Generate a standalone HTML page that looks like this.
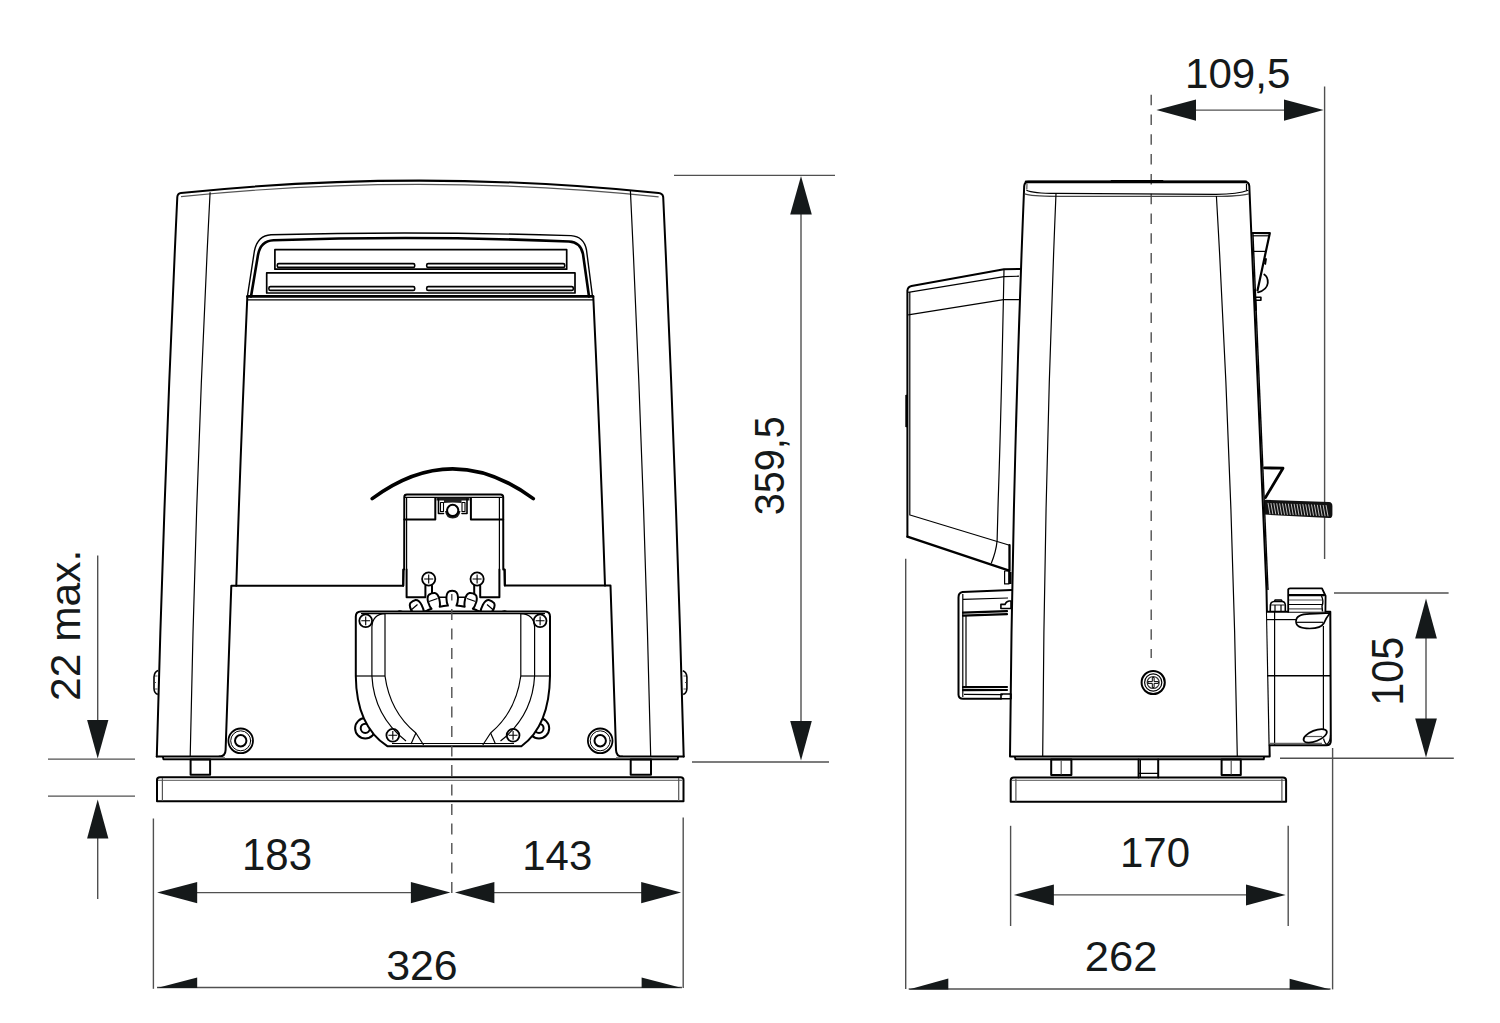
<!DOCTYPE html>
<html><head><meta charset="utf-8">
<style>
html,body{margin:0;padding:0;background:#fff;width:1500px;height:1023px;overflow:hidden}
svg{display:block}
.t{font-family:"Liberation Sans",sans-serif;font-size:44px;fill:#15191a}
.dm{stroke:#505050;stroke-width:1.4;fill:none}
.ar{fill:#15191a;stroke:none}
.k{stroke:#000;stroke-width:2;fill:none;stroke-linejoin:round;stroke-linecap:round}
.k1{stroke:#000;stroke-width:1.2;fill:none;stroke-linejoin:round}
.kg{stroke:#333;stroke-width:1;fill:none}
.dash{stroke:#505050;stroke-width:1.4;fill:none;stroke-dasharray:10 9}
</style></head><body>
<svg width="1500" height="1023" viewBox="0 0 1500 1023">
<!-- ============ DIMENSIONS FRONT ============ -->
<g id="dimsF">
  <!-- 359,5 -->
  <line class="dm" x1="674" y1="175.4" x2="835" y2="175.4"/>
  <line class="dm" x1="692" y1="762" x2="829" y2="762"/>
  <line class="dm" x1="801" y1="212" x2="801" y2="723"/>
  <polygon class="ar" points="801,176 790.2,214.5 811.8,214.5"/>
  <polygon class="ar" points="801,760.5 790.2,721 811.8,721"/>
  <text class="t" transform="translate(784.3,515.3) rotate(-90) scale(0.9,0.965)">359,5</text>
  <!-- 22 max -->
  <line class="dm" x1="48" y1="759.1" x2="135" y2="759.1"/>
  <line class="dm" x1="48" y1="796.1" x2="135" y2="796.1"/>
  <line class="dm" x1="97.7" y1="555.5" x2="97.7" y2="722"/>
  <polygon class="ar" points="97.7,758.5 87.1,719.9 108.4,719.9"/>
  <line class="dm" x1="97.7" y1="836" x2="97.7" y2="899"/>
  <polygon class="ar" points="97.7,799.6 87.1,838.6 108.4,838.6"/>
  <text class="t" transform="translate(79.8,700.9) rotate(-90) scale(0.966,0.95)">22 max.</text>
  <!-- 183 / 143 -->
  <line class="dm" x1="153.4" y1="818.5" x2="153.4" y2="988.8"/>
  <line class="dm" x1="683.2" y1="817.5" x2="683.2" y2="988"/>
  <line class="dm" x1="195" y1="892.6" x2="413" y2="892.6"/>
  <polygon class="ar" points="157.1,892.6 197.2,882.1 197.2,903.2"/>
  <polygon class="ar" points="450.4,892.6 410.9,882.1 410.9,903.2"/>
  <line class="dm" x1="492" y1="892.6" x2="643" y2="892.6"/>
  <polygon class="ar" points="454.9,892.6 494.4,882.1 494.4,903.2"/>
  <polygon class="ar" points="681.1,892.6 641.2,882.1 641.2,903.2"/>
  <text class="t" transform="translate(242,870) scale(0.954,0.99)">183</text>
  <text class="t" transform="translate(522.3,869.9) scale(0.952,0.977)">143</text>
  <!-- 326 -->
  <line class="dm" x1="157" y1="987.5" x2="682" y2="987.5"/>
  <polygon class="ar" points="157,988 197.2,977.5 197.2,988"/>
  <polygon class="ar" points="682,988 641.6,977.5 641.6,988"/>
  <text class="t" transform="translate(386.2,980) scale(0.974,0.961)">326</text>
  
</g>
<!-- ============ DIMENSIONS SIDE ============ -->
<g id="dimsS">
  <!-- 109,5 -->
  <line class="dm" x1="1194" y1="110.1" x2="1286" y2="110.1"/>
  <polygon class="ar" points="1156.4,110.1 1196,99.4 1196,120.7"/>
  <polygon class="ar" points="1323.6,110.1 1284,99.4 1284,120.7"/>
  <line class="dm" x1="1324.6" y1="86.6" x2="1324.6" y2="559"/>
  <line class="dash" style="stroke-dasharray:10.5 9.3" x1="1151.2" y1="94.7" x2="1151.2" y2="658"/>
  <text class="t" transform="translate(1185,88.1) scale(0.957,0.961)">109,5</text>
  <!-- 105 -->
  <line class="dm" x1="1334" y1="593" x2="1448.6" y2="593"/>
  <line class="dm" x1="1280" y1="758.3" x2="1453.8" y2="758.3"/>
  <line class="dm" x1="1426" y1="636" x2="1426" y2="720"/>
  <polygon class="ar" points="1426,598.6 1415.2,638.5 1436.9,638.5"/>
  <polygon class="ar" points="1426,757.4 1415.2,718.4 1436.9,718.4"/>
  <text class="t" transform="translate(1402.7,705.7) rotate(-90) scale(0.938,0.99)">105</text>
  <!-- 170 -->
  <line class="dm" x1="1010.6" y1="825.8" x2="1010.6" y2="926"/>
  <line class="dm" x1="1288.2" y1="825.8" x2="1288.2" y2="926"/>
  <line class="dm" x1="1052" y1="894.9" x2="1248" y2="894.9"/>
  <polygon class="ar" points="1013.8,894.9 1053.9,884.4 1053.9,905.5"/>
  <polygon class="ar" points="1285.6,894.9 1246,884.4 1246,905.5"/>
  <text class="t" transform="translate(1120,867) scale(0.954,0.968)">170</text>
  <!-- 262 -->
  <line class="dm" x1="905.7" y1="558.7" x2="905.7" y2="989"/>
  <line class="dm" x1="1332.6" y1="748" x2="1332.6" y2="989.4"/>
  <line class="dm" x1="908.7" y1="989" x2="1330.5" y2="989"/>
  <polygon class="ar" points="908.7,989.5 948.3,978.4 948.3,989.5"/>
  <polygon class="ar" points="1330.5,989.5 1289.6,978.8 1289.6,989.5"/>
  <text class="t" transform="translate(1084.8,971) scale(0.99,0.958)">262</text>
</g>
<g id="front">
  <!-- outer body -->
  <path class="k" d="M156.8,756.4 Q164.2,476.7 177.3,197 Q177.6,193.3 181,193 Q420,168.2 658.6,193.1 Q662.6,193.5 663.2,197 Q676.2,476.8 683.7,756.6"/>
  <path class="k1" style="stroke:#555" d="M181,196.6 Q420,172 658.6,196.8"/>
  <!-- inner thin side lines -->
  <path class="k1" d="M210.1,192.2 Q195.6,474.3 190.2,756.4"/>
  <path class="k1" d="M630.4,190.6 Q644.1,473.6 650.7,756.6"/>
  <!-- panel lines -->
  <path class="k" d="M247.3,297 Q240.5,450 236.3,585.8"/>
  <path class="k" d="M593.3,297 Q600.5,450 605,585.6"/>
  <!-- lower block -->
  <path class="k" d="M219.5,756.4 Q225.4,756.4 225.6,750 L231.3,585.8 L403.2,585.8 L403.5,569.5"/>
  <path class="k" d="M622,756.6 Q616.3,756.6 616,750 L610.5,585.6 L504.9,585.6 L504.6,569.5"/>
  <line class="k" x1="156.7" y1="756.4" x2="219.5" y2="756.4"/>
  <line class="k" x1="622" y1="756.6" x2="683.7" y2="756.6"/>
  <!-- bottom strip -->
  <path class="k" d="M163,757 L163.5,759.2 L677.7,759.2 L678,757"/>
  <line class="k1" style="stroke:#888" x1="164" y1="757.7" x2="225" y2="757.7"/>
  <line class="k1" style="stroke:#888" x1="616" y1="757.7" x2="677" y2="757.7"/>
  <!-- feet -->
  <rect class="k" x="190.6" y="759.6" width="19.5" height="15.2"/>
  <rect class="k" x="630.7" y="759.6" width="20.3" height="15.2"/>
  <!-- base plate -->
  <path class="k" d="M157,780 Q157,777.3 160,777.3 L680.5,777.3 Q683.5,777.3 683.5,780 L683.5,801.2 L157,801.2 Z"/>
  <line class="k1" style="stroke:#777" x1="158" y1="780.4" x2="683" y2="780.4"/>
  <line class="k1" style="stroke:#555" x1="162.4" y1="778" x2="162.4" y2="801"/>
  <line class="k1" style="stroke:#555" x1="678.7" y1="778" x2="678.7" y2="801"/>
  <!-- knobs -->
  <path class="k1" style="stroke-width:1.6" d="M158.2,670.6 Q154.3,672 154,677 L154,688.5 Q154.2,693.2 157.8,694.6"/>
  <path class="k1" style="stroke:#444;stroke-width:0.9" d="M155,676 L157.5,676 M155,689 L157.5,689 M154.5,682.5 L156,682.5"/>
  <path class="k1" style="stroke-width:1.6" d="M682.8,670.8 Q686.6,672 686.9,677 L686.9,688.5 Q686.7,693.2 683.2,694.6"/>
  <path class="k1" style="stroke:#444;stroke-width:0.9" d="M683.5,676 L686,676 M683.5,689 L686,689 M685,682.5 L686.5,682.5"/>
  <!-- grille -->
  <path class="k1" style="stroke-width:1.4" d="M247.3,297 L254.4,251 Q257.5,235.5 271,234.7 Q420,231 571,235.6 Q584,236.5 586.5,250 L592.5,296.5"/>
  <path class="k" style="stroke-width:2.6" d="M251,296.5 L258,255 Q260.5,241 273.5,240.3 Q420,235.2 569,241.5 Q580.5,242 583,254 L589,296.5"/>
  <line class="k" style="stroke-width:2.8" x1="247.5" y1="296.4" x2="593" y2="296.4"/>
  <line class="k1" x1="247" y1="299.9" x2="593.3" y2="299.9"/>
  <!-- slat 1 -->
  <path class="k" style="stroke-width:1.7" d="M274.9,269.2 L274.9,249.7 L566.7,249.7 L566.7,269.2 Z"/>
  <rect class="k" x="277.3" y="263.6" width="137.4" height="3.8" rx="1.5" style="stroke-width:1.6"/>
  <rect class="k" x="426.7" y="263.6" width="138" height="3.8" rx="1.5" style="stroke-width:1.6"/>
  <!-- slat 2 -->
  <path class="k" style="stroke-width:1.7" d="M266.7,293 L266.7,272.9 L575,272.9 L575,293 Z"/>
  <rect class="k" x="268.9" y="286.6" width="145.8" height="3.8" rx="1.5" style="stroke-width:1.6"/>
  <rect class="k" x="426.7" y="286.6" width="146.6" height="3.8" rx="1.5" style="stroke-width:1.6"/>
  <!-- arc -->
  <path class="k" style="stroke-width:3.6" d="M372.2,498.6 Q452.5,439 533.3,498.6"/>
  <!-- washers -->
  <g class="k">
    <circle cx="240.7" cy="740.8" r="12.3" style="stroke-width:1.8"/><circle cx="240.7" cy="740.8" r="10" style="stroke-width:1"/><circle cx="240.7" cy="740.8" r="5.7"/>
    <circle cx="600.2" cy="740.8" r="12.3" style="stroke-width:1.8"/><circle cx="600.2" cy="740.8" r="10" style="stroke-width:1"/><circle cx="600.2" cy="740.8" r="5.7"/>
  </g>
</g>
<g id="front2">
<g id="gearbox">
<path class="k" d="M403.2,585.8 L403.4,569.8 L404.2,569.5 L404.3,497 Q404.3,494.5 407,494.5 L500.5,494.5 Q503.2,494.5 503.2,497 L503.3,569.5 L504.6,569.8 L504.8,585.6"/>
<line class="k1" x1="405" y1="497.4" x2="502.5" y2="497.4"/>
<path class="k" d="M404.3,519.6 L435.3,519.6 L435.3,498"/>
<path class="k" d="M503.2,519.6 L470.9,519.6 L470.9,498"/>
<line class="k1" x1="406.6" y1="497.5" x2="406.6" y2="569.5"/>
<line class="k1" x1="499.4" y1="497.5" x2="499.4" y2="569.5"/>
<path class="k" d="M406.6,569.5 L406.6,597.2 L425.4,597.2 L425.4,585.4"/>
<path class="k" d="M499.4,569.5 L499.4,597.2 L480.2,597.2 L480.2,585.4"/>
<line class="k" x1="432" y1="585.4" x2="432" y2="596"/>
<line class="k" x1="474.2" y1="585.4" x2="474.2" y2="596"/>
<path style="fill:#1c1c1c" d="M436.5,497.5 L469.5,497.5 L469.5,500.5 L436.5,500.5 Z"/>
<path class="k" style="stroke-width:1.6" d="M438.5,499 L438.5,513.5 L443.5,513.5 M467,499 L467,513.5 L462,513.5"/>
<path style="fill:#222" d="M444,499.5 L461.5,499.5 L461.5,503 Q458,502.5 452.7,502.5 Q447.5,502.5 444,503 Z"/>
<rect class="k1" style="stroke-width:1.1" x="440.5" y="502.5" width="3" height="9"/>
<rect class="k1" style="stroke-width:1.1" x="462" y="502.5" width="3" height="9"/>
<path style="fill:#1c1c1c" d="M445,511 Q446,518.5 452.7,518.5 Q459.4,518.5 460.5,511 L458.5,511 Q457.5,516 452.7,516 Q448,516 447,511 Z"/>
<circle style="fill:#fff;stroke:#000;stroke-width:2" cx="452.7" cy="510.4" r="5.6"/>
</g>
<circle class="k" style="stroke-width:1.8" cx="428.7" cy="579" r="6.6"/>
<path class="k1" style="stroke-width:1.1" d="M424.2,579 H433.2 M428.7,574.5 V583.5"/>
<circle class="k" style="stroke-width:1.8" cx="477.1" cy="579" r="6.6"/>
<path class="k1" style="stroke-width:1.1" d="M472.6,579 H481.6 M477.1,574.5 V583.5"/>
<clipPath id="gclip"><rect x="395" y="580" width="115" height="31.5"/></clipPath>
<line class="k1" style="stroke-width:1.6" x1="432" y1="597.2" x2="474.2" y2="597.2"/>
<path style="fill:#fff" class="k" clip-path="url(#gclip)" d="M400.8,630.1 L403.5,626.9 Q400.9,626.1 397.3,622.6 Q393.4,618.6 394.5,615.6 Q396.0,612.9 398.8,611.5 Q401.8,610.6 405.6,614.6 Q409.0,618.3 409.7,621.0 L412.9,618.4 L416.4,616.1 Q414.0,614.6 411.4,610.4 Q408.7,605.5 410.5,602.9 Q412.6,600.6 415.6,600.0 Q418.8,599.8 421.5,604.7 Q423.8,609.2 423.8,611.9 L427.6,610.3 L431.5,608.8 Q429.6,606.8 428.1,602.0 Q426.7,596.6 429.1,594.6 Q431.7,592.9 434.8,593.1 Q437.9,593.7 439.3,599.1 Q440.4,604.0 439.7,606.7 L443.8,606.0 L447.9,605.6 Q446.6,603.2 446.4,598.2 Q446.4,592.6 449.3,591.3 Q452.2,590.3 455.1,591.3 Q458.0,592.6 458.0,598.2 Q457.8,603.2 456.5,605.6 L460.6,606.0 L464.7,606.7 Q464.0,604.0 465.1,599.1 Q466.5,593.7 469.6,593.1 Q472.7,592.9 475.3,594.6 Q477.7,596.6 476.3,602.0 Q474.8,606.8 472.9,608.8 L476.8,610.3 L480.6,611.9 Q480.6,609.2 482.9,604.7 Q485.6,599.8 488.8,600.0 Q491.8,600.6 493.9,602.9 Q495.7,605.5 493.0,610.4 Q490.4,614.6 488.0,616.1 L491.5,618.4 L494.7,621.0 Q495.4,618.3 498.8,614.6 Q502.6,610.6 505.6,611.5 Q508.4,612.9 509.9,615.6 Q511.0,618.6 507.1,622.6 Q503.5,626.1 500.9,626.9 L503.6,630.1"/>
<line class="k1" x1="429" y1="601.5" x2="437.5" y2="598.5"/>
<line class="k1" x1="467" y1="598.5" x2="475.5" y2="601.5"/>
<line class="k1" x1="410.5" y1="610.5" x2="417.5" y2="604.5"/>
<line class="k1" x1="487" y1="604.5" x2="494" y2="610.5"/>
<circle class="k" cx="365.3" cy="728.3" r="10.2"/><circle class="k" cx="365.3" cy="728.3" r="4.6"/>
<circle class="k" cx="539" cy="728.3" r="10.2"/><circle class="k" cx="539" cy="728.3" r="4.6"/>
<g id="housing">
<path style="fill:#fff" class="k" d="M361,611.4 L545,611.4 Q550,611.4 550,616.5 L550,676 Q549.5,726 521.4,746.2 L387.3,746.2 Q356.3,726 355.8,676 L355.8,616.5 Q355.8,611.4 361,611.4 Z"/>
<line class="k1" x1="361" y1="613.6" x2="545" y2="613.6"/>
<path class="k1" d="M371.9,676 L371.9,627 Q372.5,614 385,613.6"/>
<path class="k1" d="M534.6,676 L534.6,627 Q534,614 520.8,613.6"/>
<line class="k1" x1="385" y1="613.6" x2="385" y2="676"/>
<line class="k1" x1="520.8" y1="613.6" x2="520.8" y2="676"/>
<line class="k1" x1="355.8" y1="676" x2="385" y2="676"/>
<line class="k1" x1="520.8" y1="676" x2="550" y2="676"/>
<path class="k1" d="M371.9,676 Q374,716 406,741"/>
<path class="k1" d="M534.6,676 Q532.5,716 500.5,741"/>
<path class="k1" d="M385,676 Q390,712 415.9,733 L423.6,745"/>
<path class="k1" d="M520.8,676 Q515.8,712 490.6,733 L482.8,745"/>
<line class="k1" x1="415.9" y1="733" x2="411" y2="744"/>
<line class="k1" x1="490.6" y1="733" x2="495.5" y2="744"/>
<line class="k1" x1="392" y1="743.5" x2="514" y2="743.5"/>
</g>
<circle class="k" style="stroke-width:1.8" cx="365.7" cy="620.8" r="6.4"/>
<path class="k1" style="stroke-width:1.1" d="M361.3,620.8 H370.1 M365.7,616.4 V625.2"/>
<circle class="k" style="stroke-width:1.8" cx="540.1" cy="620.8" r="6.4"/>
<path class="k1" style="stroke-width:1.1" d="M535.7,620.8 H544.5 M540.1,616.4 V625.2"/>
<circle class="k" style="stroke-width:1.8" cx="392.8" cy="735.3" r="6.4"/>
<path class="k1" style="stroke-width:1.1" d="M388.4,735.3 H397.2 M392.8,730.9 V739.7"/>
<circle class="k" style="stroke-width:1.8" cx="513.1" cy="735.3" r="6.4"/>
<path class="k1" style="stroke-width:1.1" d="M508.7,735.3 H517.5 M513.1,730.9 V739.7"/>
</g>
<g id="side">
<path class="k" d="M907.4,536.7 L907.4,290.5 Q907.8,286.6 911.5,285.9 L1004,269.3 L1021,268.9"/>
<line class="k1" x1="909.8" y1="292" x2="909.8" y2="514.8"/>
<path class="k1" d="M908.2,292.3 L1004,276.7 L1019,276.2"/>
<path class="k1" d="M908.2,314.8 L1003.6,299.6 L1019,299.6"/>
<path class="k1" d="M1004,269.5 Q1001,420 998.2,500 L997.1,540.9 Q996,552 991.2,563.4"/>
<path class="k1" d="M909.2,514.8 L1009.5,545.2"/>
<path class="k" style="stroke-width:2.3" d="M907.4,536.7 L1008.4,570.4 L1009.5,571 L1009.5,545.2"/>
<rect class="k1" x="1004.6" y="571" width="4.3" height="12.9"/>
<rect fill="#000" x="1008.5" y="572" width="3" height="12"/>
<path fill="#000" d="M905.3,395 L907.6,394.6 L907.6,427.5 L905.3,427 Z"/>
<path style="fill:#fff" class="k" d="M1011.5,590 L962.6,592.1 Q958.5,592.6 958.5,597.5 L958.5,694.8 Q958.7,698.8 963,698.8 L1001,698.8"/>
<line class="k1" x1="962.8" y1="594" x2="962.8" y2="697"/>
<line class="k1" x1="963" y1="599.4" x2="1008" y2="598"/>
<path class="k" style="stroke-width:2.2" d="M963,612.6 L1007,611.2 M963,615.6 L1007,614.2"/>
<line class="k1" x1="966" y1="616" x2="966" y2="687"/>
<path class="k" style="stroke-width:2.2" d="M963,687.2 L1007,687 M963,690.2 L1007,690"/>
<line class="k1" x1="964" y1="694.3" x2="1003" y2="694.6"/>
<path class="k1" style="stroke-width:1.6" d="M1000.9,608.5 L1000.9,604.4 L1005,604.4 Q1006,601.5 1009,601 L1011,601 L1011,608.5 Z"/>
<path class="k1" style="stroke-width:1.6" d="M1001,694 L1011,694 L1011,698.8 L1001,698.8 Z"/>
<path class="k" d="M1010,756.6 Q1012.5,471.3 1024.2,186 Q1024.6,182 1028,181.8 L1245,181.8 Q1249,182 1249.3,186 L1266.5,590 L1269.7,756.6 Z"/>
<path class="k" style="stroke-width:2.6" d="M1026,181.9 L1246,181.9"/>
<path style="fill:#000" d="M1110,182 L1111,180 L1163,180 L1164,182 Z"/>
<path class="k1" d="M1026.4,190.2 Q1033,193.3 1056,193.4 L1216,194.3 Q1238,194.2 1248.3,190.3"/>
<path class="k1" style="stroke:#444" d="M1024.6,193.9 Q1031,196.3 1056,196.3 L1216,196.4 Q1240,196.2 1249,193.8"/>
<line class="k1" style="stroke:#555" x1="1027" y1="183.5" x2="1026.8" y2="189.5"/>
<line class="k1" x1="1246.5" y1="183.7" x2="1246.5" y2="190.5"/>
<path class="k1" d="M1056,193.4 Q1044.3,475.5 1042.7,756.6"/>
<path class="k1" d="M1216.4,196 Q1232.6,476.3 1237.3,756.6"/>
<path class="k" d="M1015,757.5 L1015.5,759.3 L1263.7,759.3 L1264,757.5"/>
<path class="k" d="M1138.6,759.5 L1138.6,777.6 M1158.2,759.5 L1158.2,777.6"/>
<path class="k1" d="M1140.4,759.5 L1140.4,777 M1139,773.4 L1158,773.4"/>
<rect class="k" x="1051.2" y="759.5" width="20.2" height="15.5"/>
<line class="k1" style="stroke:#555" x1="1061.2" y1="760" x2="1061.2" y2="774.5"/>
<rect class="k" x="1221.6" y="759.5" width="19.2" height="15.5"/>
<line class="k1" style="stroke:#555" x1="1231.2" y1="760" x2="1231.2" y2="774.5"/>
<path class="k" d="M1010.7,780.5 Q1010.7,777.6 1013.7,777.6 L1283,777.6 Q1286.1,777.6 1286.1,780.5 L1286.1,801.7 L1010.7,801.7 Z"/>
<line class="k1" style="stroke:#777" x1="1012" y1="780.4" x2="1285" y2="780.4"/>
<line class="k1" style="stroke:#555" x1="1015.9" y1="778.5" x2="1015.9" y2="801.5"/>
<line class="k1" style="stroke:#555" x1="1281.9" y1="778.5" x2="1281.9" y2="801.5"/>
<circle class="k" cx="1153.2" cy="682.5" r="11.6"/>
<circle class="k1" cx="1153.2" cy="682.5" r="8.6"/>
<circle class="k1" style="stroke:#333" cx="1153.2" cy="682.5" r="6"/>
<path class="k1" style="stroke-width:1" d="M1148,681.6 H1152.3 V677.4 H1154.1 V681.6 H1158.4 V683.4 H1154.1 V687.6 H1152.3 V683.4 H1148 Z"/>
<path class="k" style="stroke-width:2.2" d="M1252.7,233 L1269.8,233.2 L1257.5,290.4"/>
<line class="k1" x1="1252.7" y1="235.8" x2="1269" y2="235.8"/>
<line class="k1" x1="1253.5" y1="251.4" x2="1265.8" y2="251.4"/>
<path class="k" style="stroke-width:1.8" d="M1264.3,274.5 Q1268.2,277 1267.8,283 Q1267,290 1258,292.3"/>
<line class="k1" style="stroke-width:1.4" x1="1252.9" y1="233" x2="1268" y2="590"/>
<rect class="k1" style="stroke-width:1.6" x="1254.7" y="297.2" width="6.2" height="3"/>
<path fill="#000" d="M1265,258 L1267,258.5 L1266,265 L1264,264 Z"/>
<line class="k" x1="1254.5" y1="290" x2="1256" y2="310"/>
<path class="k" style="stroke-width:2.8" d="M1264.5,467.9 L1283,468.2 L1265.5,497.5"/>
<path fill="#111" d="M1264.5,499.7 L1329,502.1 Q1332.4,502.4 1332.4,506 L1332.4,514.5 Q1332.4,518.3 1329,518.1 L1264.5,514.6 Z"/>
<path style="stroke:#e0e0e0;stroke-width:0.85;fill:none" d="M1268.0,502.9 l2.0,11.2 M1270.9,503.0 l2.0,11.2 M1273.8,503.1 l2.0,11.2 M1276.7,503.3 l2.0,11.2 M1279.6,503.4 l2.0,11.2 M1282.5,503.5 l2.0,11.2 M1285.4,503.6 l2.0,11.2 M1288.3,503.7 l2.0,11.2 M1291.2,503.8 l2.0,11.2 M1294.1,503.9 l2.0,11.2 M1297.0,504.0 l2.0,11.2 M1299.9,504.1 l2.0,11.2 M1302.8,504.2 l2.0,11.2 M1305.7,504.3 l2.0,11.2 M1308.6,504.4 l2.0,11.2 M1311.5,504.5 l2.0,11.2 M1314.4,504.6 l2.0,11.2 M1317.3,504.8 l2.0,11.2 M1320.2,504.9 l2.0,11.2 M1323.1,505.0 l2.0,11.2 M1326.0,505.1 l2.0,11.2"/>
<path style="fill:#fff" class="k" d="M1267,611.8 L1330.3,611.8 L1330.8,741 Q1330.8,745.3 1326.5,745.3 L1269.7,745.3"/>
<line class="k1" x1="1274.6" y1="612" x2="1274.6" y2="745"/>
<line class="k1" x1="1323.4" y1="626" x2="1323.4" y2="733"/>
<line class="k1" x1="1267" y1="619.6" x2="1296" y2="619.6"/>
<line class="k1" style="stroke-width:1.5" x1="1267" y1="675.8" x2="1330.8" y2="675.8"/>
<line class="k1" style="stroke:#666;stroke-width:1.5" x1="1270" y1="743.6" x2="1322" y2="743.6"/>
<path class="k1" style="fill:#fff;stroke-width:1.7" d="M1296,621.5 Q1296,613.8 1309.7,613.8 Q1322,613.8 1330,613 Q1326,618 1324,623 Q1321,628.5 1309.7,628.5 Q1296,628.5 1296,621.5 Z"/>
<line class="k1" x1="1297" y1="622.3" x2="1323" y2="622.3"/>
<ellipse class="k1" style="fill:#fff;stroke-width:1.7" cx="1315.2" cy="735.8" rx="12.4" ry="5.3" transform="rotate(-22 1315.2 735.8)"/>
<line class="k1" style="stroke:#555" x1="1306" y1="736.5" x2="1322" y2="736.5"/>
<path class="k1" d="M1323.5,738.5 Q1325,744 1327,744.5 Q1330.5,741 1330.5,735"/>
<path class="k" style="fill:#fff;stroke-width:1.8" d="M1288.2,611.8 L1288.2,589.5 Q1288.4,588.3 1290,588.3 L1322,588.3 L1325.6,596 L1325.4,611.8"/>
<line class="k" style="stroke-width:2.2" x1="1289" y1="595.2" x2="1324" y2="595.2"/>
<line class="k1" style="stroke:#555" x1="1289" y1="600" x2="1322" y2="600"/>
<line class="k1" x1="1289" y1="604.5" x2="1322" y2="604.5"/>
<line class="k1" style="stroke:#555" x1="1289" y1="608.8" x2="1322" y2="608.8"/>
<path class="k1" style="stroke-width:1.4" d="M1321.5,596 Q1324,601 1322,606 L1322.5,611.5"/>
<path class="k1" style="stroke-width:1.6" d="M1270.2,611.8 L1270.4,605 Q1271,601.5 1274,601.5 L1282,601.5 Q1285,601.5 1285.3,605 L1285.3,611.8"/>
<path class="k1" style="stroke-width:1.4" d="M1274.5,601.5 L1275,600 L1281.5,600 L1282.2,601.5"/>
<line class="k1" style="stroke:#444" x1="1271" y1="605" x2="1285" y2="605"/>
<line class="k1" x1="1275" y1="605" x2="1275" y2="611.5"/>
<line class="k1" x1="1281" y1="605" x2="1281" y2="611.5"/>
</g>
<line class="dash" style="stroke-dasharray:11 8.5;stroke-dashoffset:4.4" x1="451.8" y1="594" x2="451.8" y2="894"/>
</svg>
</body></html>
